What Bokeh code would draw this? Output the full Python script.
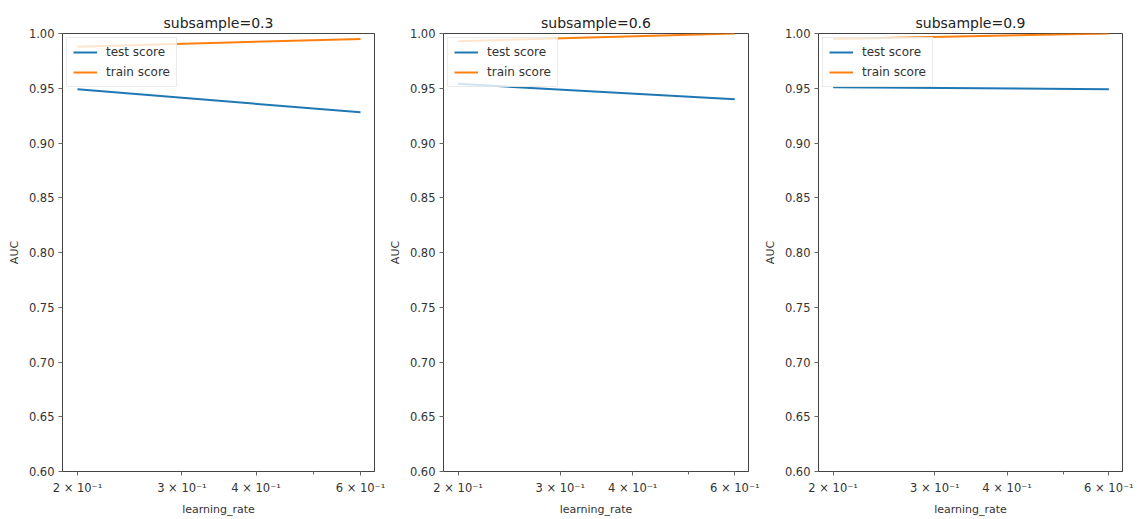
from bokeh.plotting import figure
from bokeh.layouts import row
from bokeh.models import FixedTicker, Range1d, NumeralTickFormatter
from bokeh.embed import file_html
from bokeh.resources import INLINE

learning_rate = [0.2, 0.6]
subsamples = ["0.3", "0.6", "0.9"]
test_scores = [[0.949, 0.928], [0.954, 0.940], [0.951, 0.949]]
train_scores = [[0.988, 0.995], [0.993, 1.000], [0.995, 1.000]]
x_ticks = [0.2, 0.3, 0.4, 0.6]
x_minor = [0.5]
x_labels = ["2 × 10⁻¹", "3 × 10⁻¹", "4 × 10⁻¹", "6 × 10⁻¹"]
y_ticks = [0.60, 0.65, 0.70, 0.75, 0.80, 0.85, 0.90, 0.95, 1.00]

FONT = "DejaVu Sans"
BLUE = "#1f77b4"
ORANGE = "#ff7f0e"

# layout per panel: (width, border_left, border_right)
layout = [(385, 62, 11), (375, 52, 12), (375, 51, 13)]

figs = []
for i, ss in enumerate(subsamples):
    w, bl, br = layout[i]
    p = figure(width=w, height=519, x_axis_type="log",
               x_range=Range1d(0.1887, 0.6335), y_range=Range1d(0.6, 1.0),
               output_backend="svg", toolbar_location=None,
               min_border_left=bl, min_border_right=br,
               min_border_top=33, min_border_bottom=48,
               title="subsample=" + ss)
    p.title.align = "center"
    p.title.text_font = FONT
    p.title.text_font_size = "14px"
    p.title.text_font_style = "normal"
    p.title.text_color = "#222222"
    p.title.standoff = 5

    p.line(learning_rate, test_scores[i], color=BLUE, line_width=2, legend_label="test score")
    p.line(learning_rate, train_scores[i], color=ORANGE, line_width=2, legend_label="train score")

    p.xgrid.visible = False
    p.ygrid.visible = False
    p.outline_line_color = "#444444"
    p.outline_line_width = 1

    p.xaxis.ticker = FixedTicker(ticks=x_ticks, minor_ticks=x_minor)
    p.xaxis.major_label_overrides = {t: l for t, l in zip(x_ticks, x_labels)}
    p.yaxis.ticker = FixedTicker(ticks=y_ticks)
    p.yaxis.formatter = NumeralTickFormatter(format="0.00")
    p.xaxis.axis_label = "learning_rate"
    p.yaxis.axis_label = "AUC"

    for ax in (p.xaxis[0], p.yaxis[0]):
        ax.axis_line_color = "#444444"
        ax.major_tick_line_color = "#666666"
        ax.minor_tick_line_color = "#666666"
        ax.major_tick_out = 4
        ax.major_tick_in = 0
        ax.minor_tick_out = 3
        ax.minor_tick_in = 0
        ax.major_label_text_font = FONT
        ax.major_label_text_font_size = "11.5px"
        ax.major_label_text_color = "#333333"
        ax.axis_label_text_font = FONT
        ax.axis_label_text_font_size = "11px"
        ax.axis_label_text_font_style = "normal"
        ax.axis_label_text_color = "#333333"
    p.xaxis.major_label_standoff = 5
    p.xaxis.axis_label_standoff = 5
    p.yaxis.major_label_standoff = 4
    p.yaxis.axis_label_standoff = 5
    p.yaxis.minor_tick_line_color = None

    lg = p.legend[0]
    lg.location = "top_left"
    lg.label_text_font = FONT
    lg.label_text_font_size = "12px"
    lg.label_text_color = "#333333"
    lg.glyph_width = 24
    lg.glyph_height = 16
    lg.label_height = 16
    lg.label_standoff = 9
    lg.spacing = 4
    lg.padding = 6
    lg.margin = 4
    lg.border_line_color = "#d8d8d8"
    lg.background_fill_alpha = 0.8
    figs.append(p)

layout_row = row(*figs, spacing=0)
open("out.html", "w").write(file_html(layout_row, INLINE))
